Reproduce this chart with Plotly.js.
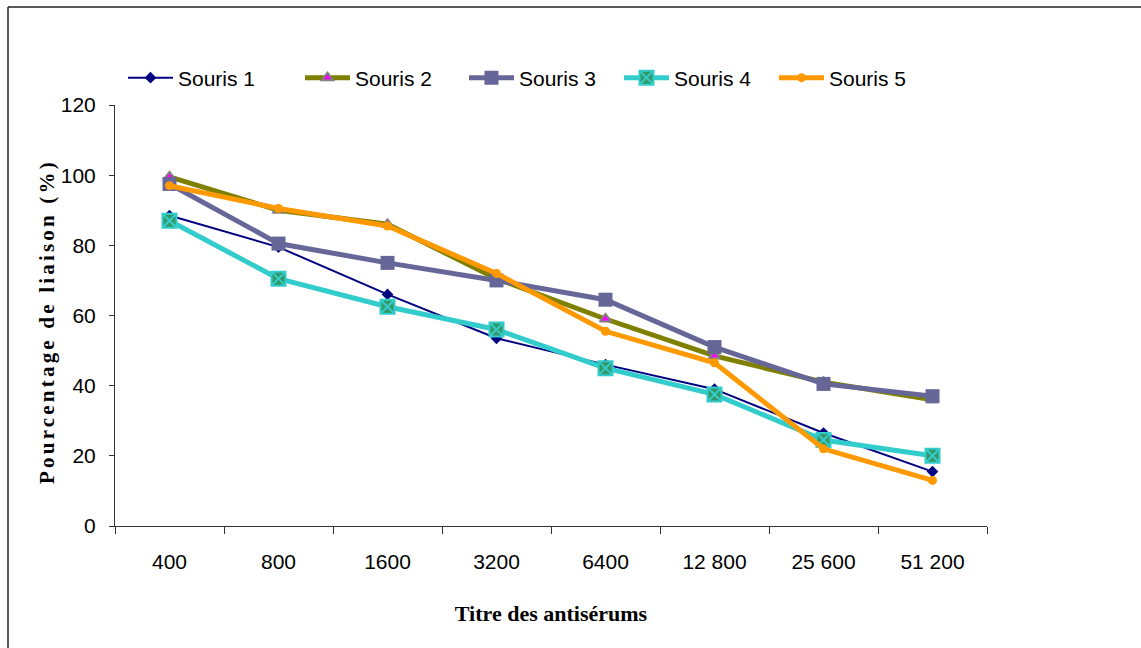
<!DOCTYPE html>
<html>
<head>
<meta charset="utf-8">
<script src="https://cdn.plot.ly/plotly-3.0.1.min.js"></script>
<style>
  html, body { margin: 0; padding: 0; background: #fff; }
  #chart { width: 1141px; height: 648px; }
</style>
</head>
<body>
<div id="chart"></div>
<script>
// Antiserum titres (x categories)
const titres = ["400", "800", "1600", "3200", "6400", "12 800", "25 600", "51 200"];

// Binding percentage per mouse
const souris1 = [88.5, 79.5, 66, 53.5, 46, 39, 26.5, 15.5];
const souris2 = [99.5, 90, 86, 70.5, 59, 48.5, 41, 36];
const souris3 = [97.5, 80.5, 75, 70, 64.5, 51, 40.5, 37];
const souris4 = [87, 70.5, 62.5, 56, 45, 37.5, 24.5, 20];
const souris5 = [97, 90.5, 85.5, 72, 55.5, 46.5, 22, 13];

const seriesNames = ["Souris 1", "Souris 2", "Souris 3", "Souris 4", "Souris 5"];
const yTicks = [0, 20, 40, 60, 80, 100, 120];

const sansFont = "'Liberation Sans', Arial, sans-serif";
const serifFont = "'Liberation Serif', 'Times New Roman', serif";
const sansSize = 21;

// plot area in pixels
const L = 115, R = 987, T = 105, B = 525.7, W = 1141, H = 648;
const px2x = p => (p - L) / (R - L);
const px2y = p => (B - p) / (B - T);

const styles = [
  { line: { color: "#000080", width: 2 }, marker: { symbol: "diamond", size: 9, color: "#000080" } },
  { line: { color: "#808000", width: 5 }, marker: { symbol: "triangle-up", size: 10, color: "#FF00FF", line: { color: "#808080", width: 2 } } },
  { line: { color: "#666699", width: 5 }, marker: { symbol: "square", size: 14, color: "#666699" } },
  { line: { color: "#33CCCC", width: 5 }, marker: { symbol: "square-x", size: 14, color: "#339966", line: { color: "#33CCCC", width: 2 } } },
  { line: { color: "#FF9900", width: 5 }, marker: { symbol: "circle", size: 9, color: "#FF9900" } }
];
const values = [souris1, souris2, souris3, souris4, souris5];
const legendIds = ["legend", "legend2", "legend3", "legend4", "legend5"];

const traces = values.map((v, i) => ({
  type: "scatter",
  mode: "lines+markers",
  name: seriesNames[i],
  x: titres,
  y: v,
  line: styles[i].line,
  marker: styles[i].marker,
  legend: legendIds[i],
  cliponaxis: false
}));

// legend entries laid out along the top
const legendStarts = [128, 305, 469, 624, 779];
const layout = {
  width: W,
  height: H,
  paper_bgcolor: "#fff",
  plot_bgcolor: "#fff",
  margin: { l: L, r: W - R, t: T, b: H - B, pad: 0 },
  showlegend: true,
  font: { family: sansFont, size: sansSize, color: "#000" },
  xaxis: {
    type: "category",
    range: [-0.5, 7.5],
    tickson: "boundaries",
    ticks: "outside",
    ticklen: 7,
    tickcolor: "#333",
    tickwidth: 1,
    showline: true,
    linecolor: "#333",
    linewidth: 1,
    showgrid: false,
    zeroline: false,
    ticklabelstandoff: 17,
    tickfont: { family: sansFont, size: sansSize, color: "#000" },
    title: { text: "Titre des antisérums", font: { family: serifFont, size: 22, weight: "bold", color: "#000" }, standoff: 33 }
  },
  yaxis: {
    range: [0, 120],
    tickvals: yTicks,
    ticktext: yTicks.map(String),
    ticks: "outside",
    ticklen: 5,
    tickcolor: "#333",
    tickwidth: 1,
    showline: true,
    linecolor: "#333",
    linewidth: 1,
    showgrid: false,
    zeroline: false,
    ticklabelstandoff: 9,
    tickfont: { family: sansFont, size: sansSize, color: "#000" },
    title: { text: "Pourcentage de liaison (%)", font: { family: serifFont, size: 21, weight: "bold", color: "#000" }, standoff: 0 }
  },
  shapes: [
    { type: "line", xref: "paper", yref: "paper", x0: px2x(8), x1: px2x(8), y0: px2y(7), y1: px2y(660), line: { color: "#222", width: 1.5 } },
    { type: "line", xref: "paper", yref: "paper", x0: px2x(8), x1: px2x(1160), y0: px2y(7), y1: px2y(7), line: { color: "#222", width: 1.5 } }
  ]
};
legendIds.forEach((id, i) => {
  layout[id] = {
    x: px2x(legendStarts[i] - 5),
    y: px2y(78),
    xanchor: "left",
    yanchor: "middle",
    orientation: "h",
    bgcolor: "rgba(0,0,0,0)",
    borderwidth: 0,
    itemwidth: 45,
    font: { family: sansFont, size: sansSize, color: "#000" }
  };
});

Plotly.newPlot("chart", traces, layout, { displayModeBar: false, responsive: false }).then(() => {
  // spaced lettering on the vertical axis title, nudged slightly downward
  const yt = document.querySelector(".ytitle");
  if (yt) {
    yt.style.letterSpacing = "3.2px";
    yt.setAttribute("dx", "-6");
  }
});
</script>
</body>
</html>
